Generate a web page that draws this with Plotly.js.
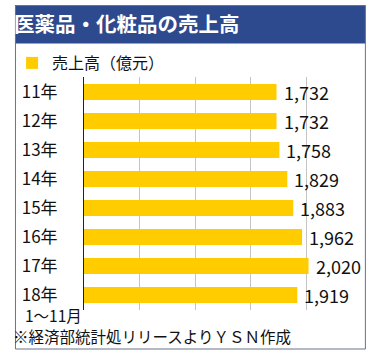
<!DOCTYPE html>
<html>
<head>
<meta charset="utf-8">
<script src="https://cdn.plot.ly/plotly-3.0.1.min.js"></script>
<style>
html,body{margin:0;padding:0;background:#fff;}
#chart{width:374px;height:357px;}
</style>
</head>
<body>
<div id="chart"></div>
<script>
// Data
const categories = ["11年","12年","13年","14年","15年","16年","17年","18年"];
const sales = [1732, 1732, 1758, 1829, 1883, 1962, 2020, 1919];
const seriesName = "売上高（億元）";
const titleText = "医薬品・化粧品の売上高";
const periodNote = "1～11月";
const sourceNote = "※経済部統計処リリースよりＹＳＮ作成";

const W = 374, H = 357;
const M = {l: 76, r: 12, t: 77, b: 47};
const PW = W - M.l - M.r, PH = H - M.t - M.b;
const px = x => (x - M.l) / PW;          // pixel x -> paper
const py = y => (H - M.b - y) / PH;      // pixel y -> paper

const FONT = '"Noto Sans CJK JP", "Noto Sans", sans-serif';
const YELLOW = '#FFCC00';
const BLUE = '#2D4A8E';
const BORDER = '#66748A';

const trace = {
  type: 'bar',
  orientation: 'h',
  x: sales,
  y: categories,
  name: seriesName,
  marker: {color: YELLOW, line: {width: 0}},
  hoverinfo: 'skip',
  showlegend: true
};

const annotations = sales.map((v, i) => ({
  x: v, y: categories[i], xref: 'x', yref: 'y',
  text: v.toLocaleString('en-US'),
  showarrow: false, xanchor: 'left', yanchor: 'middle', xshift: 5,
  font: {family: FONT, size: 18, color: '#111'}
}));
annotations.push({
  xref: 'paper', yref: 'paper', x: px(13), y: py(315),
  xanchor: 'left', yanchor: 'middle', showarrow: false,
  text: periodNote, font: {family: FONT, size: 15.5, color: '#111'}
});
annotations.push({
  xref: 'paper', yref: 'paper', x: px(1), y: py(336),
  xanchor: 'left', yanchor: 'middle', showarrow: false,
  text: sourceNote, font: {family: FONT, size: 15.5, color: '#111'}
});

const layout = {
  width: W, height: H,
  margin: M,
  paper_bgcolor: '#fff', plot_bgcolor: '#fff',
  font: {family: FONT, color: '#111'},
  title: {
    text: '<b>' + titleText + '</b>',
    xref: 'container', yref: 'container',
    x: 14 / W, xanchor: 'left', y: 1 - 25 / H, yanchor: 'middle',
    font: {family: FONT, size: 20.5, color: '#fff'}
  },
  bargap: 0.45,
  xaxis: {
    range: [0, 2501], dtick: 500, tick0: 0,
    showgrid: true, gridcolor: '#c4c4c4', gridwidth: 1,
    zeroline: false, showticklabels: false, showline: false, fixedrange: true
  },
  yaxis: {
    type: 'category', autorange: 'reversed',
    showline: true, linecolor: '#222', linewidth: 1,
    showgrid: false, zeroline: false, ticks: '',
    ticklabelstandoff: 22,
    tickfont: {family: FONT, size: 17, color: '#111'}, fixedrange: true
  },
  legend: {
    x: px(2), xanchor: 'left', y: py(63), yanchor: 'middle',
    font: {family: FONT, size: 16, color: '#111'},
    bgcolor: 'rgba(0,0,0,0)'
  },
  showlegend: true,
  shapes: [
    {type: 'rect', xref: 'paper', yref: 'paper', layer: 'below',
     x0: px(5), x1: px(365.5), y0: py(43.5), y1: py(5),
     fillcolor: BLUE, line: {width: 0}},
    {type: 'rect', xref: 'paper', yref: 'paper', layer: 'above',
     x0: px(5.5), x1: px(365.5), y0: py(349), y1: py(5.5),
     fillcolor: 'rgba(0,0,0,0)', line: {color: BORDER, width: 1}}
  ],
  annotations: annotations
};

Plotly.newPlot('chart', [trace], layout, {staticPlot: true, displayModeBar: false});
</script>
</body>
</html>
